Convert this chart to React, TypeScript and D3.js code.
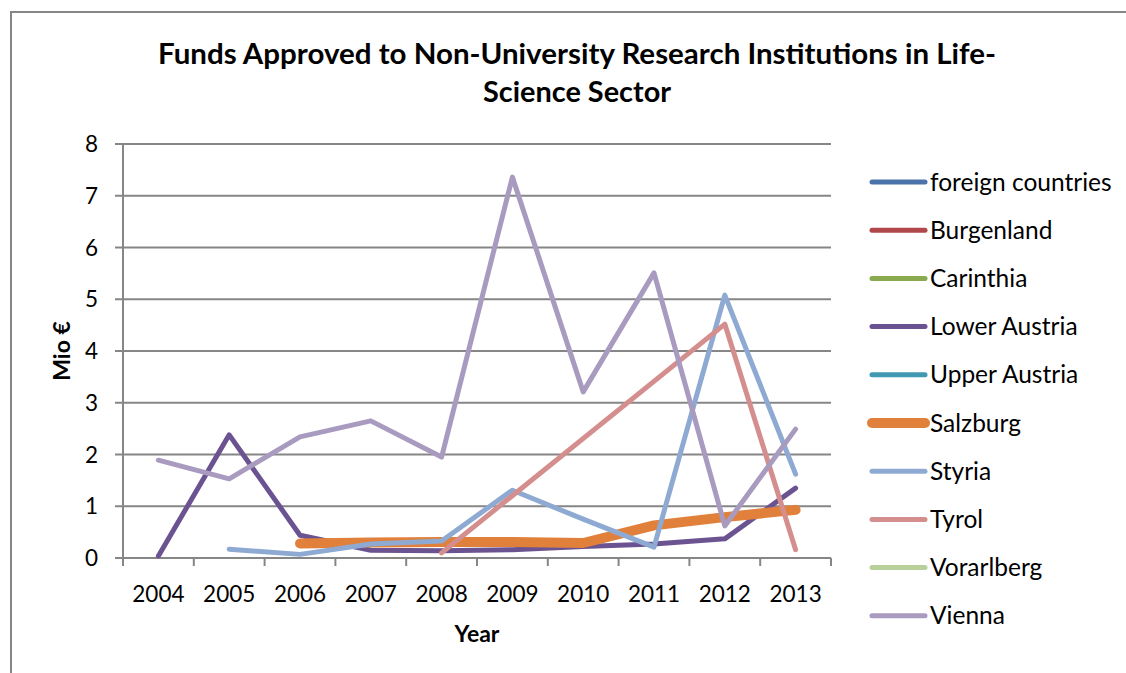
import React from "react";
import * as d3 from "d3";

const years = ["2004", "2005", "2006", "2007", "2008", "2009", "2010", "2011", "2012", "2013"];
const yTicks = [0, 1, 2, 3, 4, 5, 6, 7, 8];

const seriesNames = [
  "foreign countries",
  "Burgenland",
  "Carinthia",
  "Lower Austria",
  "Upper Austria",
  "Salzburg",
  "Styria",
  "Tyrol",
  "Vorarlberg",
  "Vienna",
];
const seriesColors = [
  "#4a73aa",
  "#b0474a",
  "#8aaa50",
  "#6b5391",
  "#4198b2",
  "#e0803a",
  "#8eaad2",
  "#d48e8d",
  "#b8d09a",
  "#a89bbf",
];

const foreignCountries: (number | null)[] = [null, null, null, null, null, null, null, null, null, null];
const burgenland: (number | null)[] = [null, null, null, null, null, null, null, null, null, null];
const carinthia: (number | null)[] = [null, null, null, null, null, null, null, null, null, null];
const lowerAustria: (number | null)[] = [0.04, 2.38, 0.44, 0.15, 0.14, 0.16, 0.22, 0.27, 0.37, 1.35];
const upperAustria: (number | null)[] = [null, null, null, null, null, null, null, null, null, null];
const salzburg: (number | null)[] = [null, null, 0.28, 0.3, 0.31, 0.31, 0.29, 0.63, 0.79, 0.93];
const styria: (number | null)[] = [null, 0.17, 0.07, 0.27, 0.33, 1.31, 0.75, 0.21, 5.08, 1.62];
const tyrol: (number | null)[] = [null, null, null, null, 0.1, null, null, null, 4.52, 0.16];
const vorarlberg: (number | null)[] = [null, null, null, null, null, null, null, null, null, null];
const vienna: (number | null)[] = [1.89, 1.53, 2.34, 2.65, 1.95, 7.36, 3.21, 5.51, 0.62, 2.49];

const seriesValues = [
  foreignCountries,
  burgenland,
  carinthia,
  lowerAustria,
  upperAustria,
  salzburg,
  styria,
  tyrol,
  vorarlberg,
  vienna,
];

const W = 1126;
const H = 673;
const plot = { left: 123, right: 831, top: 144, bottom: 558 };
const FONT = "Lato, 'Open Sans', sans-serif";
const GRID = "#868686";

export default function App() {
  const x = d3.scaleBand<string>().domain(years).range([plot.left, plot.right]).padding(0);
  const y = d3.scaleLinear().domain([0, 8]).range([plot.bottom, plot.top]);
  const cx = (yr: string) => (x(yr) as number) + x.bandwidth() / 2;

  const line = d3
    .line<{ yr: string; v: number }>()
    .x((d) => cx(d.yr))
    .y((d) => y(d.v));

  const boundaries = [...years.map((yr) => x(yr) as number), plot.right];

  const legendX = 872;
  const legendY0 = 182;
  const legendStep = 48.2;

  return (
    <svg
      width={W}
      height={H}
      style={{ position: "absolute", left: 0, top: 0, background: "#fff" }}
      fontFamily={FONT}
    >
      <rect x={0} y={0} width={W} height={H} fill="#fff" />
      {/* chart frame */}
      <path d={`M11,${H + 5} L11,12 L${W + 5},12`} fill="none" stroke={GRID} strokeWidth={2} />

      {/* title */}
      <text
        x={577}
        y={64}
        textAnchor="middle"
        fontSize={28}
        fontWeight="bold"
        fill="#000"
        textLength={838}
        lengthAdjust="spacingAndGlyphs"
      >
        Funds Approved to Non-University Research Institutions in Life-
      </text>
      <text
        x={577}
        y={102}
        textAnchor="middle"
        fontSize={28}
        fontWeight="bold"
        fill="#000"
        textLength={188}
        lengthAdjust="spacingAndGlyphs"
      >
        Science Sector
      </text>

      {/* gridlines + y ticks */}
      {yTicks.map((t) => (
        <g key={t}>
          <line x1={115} x2={plot.right} y1={y(t)} y2={y(t)} stroke={GRID} strokeWidth={2} />
          <text x={98} y={y(t) + 8} textAnchor="end" fontSize={22.5} fill="#000">
            {t}
          </text>
        </g>
      ))}

      {/* y axis */}
      <line x1={plot.left} x2={plot.left} y1={plot.top} y2={plot.bottom + 7} stroke={GRID} strokeWidth={2} />

      {/* x ticks */}
      {boundaries.map((b, i) => (
        <line key={i} x1={b} x2={b} y1={plot.bottom} y2={plot.bottom + 8} stroke={GRID} strokeWidth={2} />
      ))}
      {years.map((yr) => (
        <text key={yr} x={cx(yr)} y={602} textAnchor="middle" fontSize={22.5} fill="#000">
          {yr}
        </text>
      ))}

      {/* axis titles */}
      <text x={477} y={642} textAnchor="middle" fontSize={23} fontWeight="bold" fill="#000">
        Year
      </text>
      <text
        transform={`translate(70,351) rotate(-90)`}
        textAnchor="middle"
        fontSize={23}
        fontWeight="bold"
        fill="#000"
      >
        Mio €
      </text>

      {/* series */}
      {seriesValues.map((vals, i) => {
        const pts = vals
          .map((v, j) => ({ yr: years[j], v }))
          .filter((d) => d.v !== null) as { yr: string; v: number }[];
        if (pts.length < 2) return null;
        return (
          <path
            key={seriesNames[i]}
            d={line(pts) || ""}
            fill="none"
            stroke={seriesColors[i]}
            strokeWidth={seriesNames[i] === "Salzburg" ? 10 : 5}
            strokeLinejoin="round"
            strokeLinecap="round"
          />
        );
      })}

      {/* legend */}
      {seriesNames.map((name, i) => {
        const ly = legendY0 + i * legendStep;
        const thick = name === "Salzburg";
        return (
          <g key={name}>
            <line
              x1={legendX}
              x2={925}
              y1={ly}
              y2={ly}
              stroke={seriesColors[i]}
              strokeWidth={thick ? 10 : 5}
              strokeLinecap="round"
            />
            <text x={930} y={ly + 8.5} fontSize={24.5} fill="#000">
              {name}
            </text>
          </g>
        );
      })}
    </svg>
  );
}
